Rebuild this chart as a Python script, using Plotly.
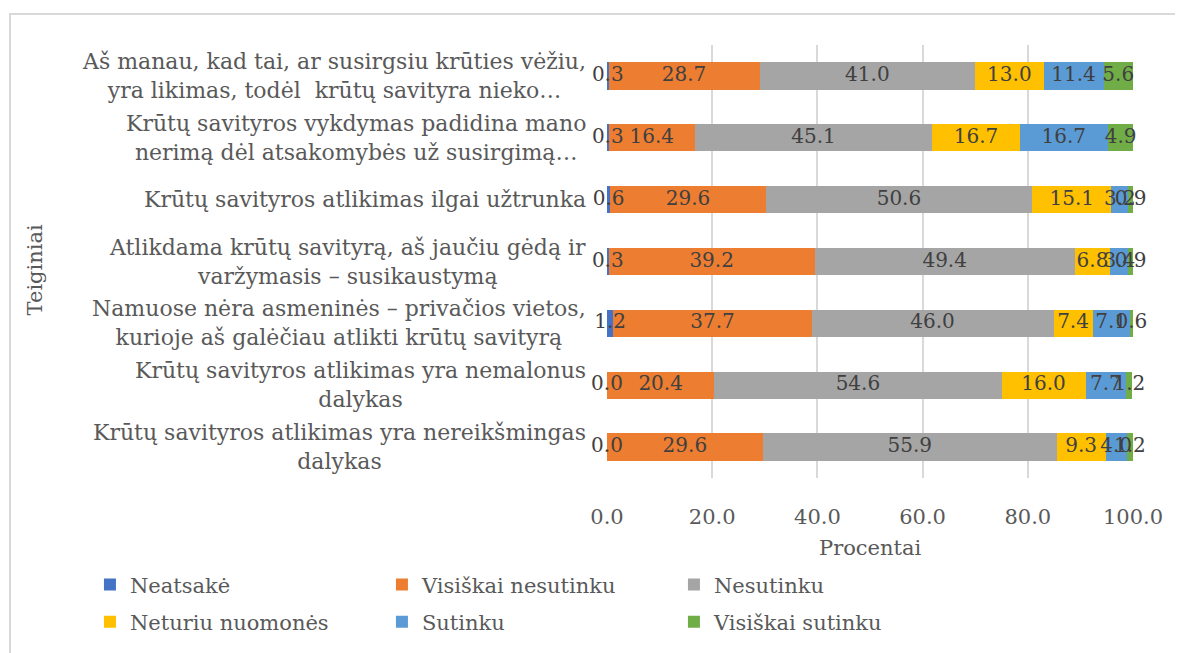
import plotly.graph_objects as go

# Statements, listed top to bottom
categories = [
    'Aš manau, kad tai, ar susirgsiu krūties vėžiu,<br>yra likimas, todėl  krūtų savityra nieko…',
    'Krūtų savityros vykdymas padidina mano<br>nerimą dėl atsakomybės už susirgimą…',
    'Krūtų savityros atlikimas ilgai užtrunka',
    'Atlikdama krūtų savityrą, aš jaučiu gėdą ir<br>varžymasis – susikaustymą',
    'Namuose nėra asmeninės – privačios vietos,<br>kurioje aš galėčiau atlikti krūtų savityrą',
    'Krūtų savityros atlikimas yra nemalonus<br>dalykas',
    'Krūtų savityros atlikimas yra nereikšmingas<br>dalykas',
]

neatsake = [0.3, 0.3, 0.6, 0.3, 1.2, 0.0, 0.0]
visiskai_nesutinku = [28.7, 16.4, 29.6, 39.2, 37.7, 20.4, 29.6]
nesutinku = [41.0, 45.1, 50.6, 49.4, 46.0, 54.6, 55.9]
neturiu_nuomones = [13.0, 16.7, 15.1, 6.8, 7.4, 16.0, 9.3]
sutinku = [11.4, 16.7, 3.2, 3.4, 7.1, 7.7, 4.0]
visiskai_sutinku = [5.6, 4.9, 0.9, 0.9, 0.6, 1.2, 1.2]

series = [
    ('Neatsakė', neatsake, '#4472C4', 'legend'),
    ('Visiškai nesutinku', visiskai_nesutinku, '#ED7D31', 'legend'),
    ('Nesutinku', nesutinku, '#A5A5A5', 'legend'),
    ('Neturiu nuomonės', neturiu_nuomones, '#FFC000', 'legend2'),
    ('Sutinku', sutinku, '#5B9BD5', 'legend2'),
    ('Visiškai sutinku', visiskai_sutinku, '#70AD47', 'legend2'),
]

FONT = 'DejaVu Serif'
GREY = '#595959'

fig = go.Figure()

base = [0.0] * len(categories)
label_traces = []
for name, vals, color, leg in series:
    fig.add_trace(go.Bar(
        x=vals, y=categories, orientation='h', name=name,
        marker=dict(color=color, line=dict(width=0)),
        legend=leg, hoverinfo='x+name',
    ))
    mids = [b + v / 2 for b, v in zip(base, vals)]
    label_traces.append(go.Scatter(
        x=mids, y=categories, mode='text',
        text=[f'{v:.1f}' for v in vals],
        textfont=dict(family=FONT, size=20, color='#404040'),
        showlegend=False, hoverinfo='skip', cliponaxis=False,
    ))
    base = [b + v for b, v in zip(base, vals)]

for t in label_traces:
    fig.add_trace(t)

# category labels, centred lines like the original
for cat in categories:
    fig.add_annotation(
        x=-0.036, xref='paper', y=cat, yref='y',
        text=cat, showarrow=False, xanchor='right', yanchor='middle',
        align='center', font=dict(family=FONT, size=22, color=GREY),
    )

fig.add_annotation(
    x=-1.087, xref='paper', y=0.48, yref='paper', text='Teiginiai',
    textangle=-90, showarrow=False, xanchor='center', yanchor='middle',
    font=dict(family=FONT, size=21, color=GREY),
)
fig.add_annotation(
    x=0.5, xref='paper', y=-0.162, yref='paper', text='Procentai',
    showarrow=False, xanchor='center', yanchor='middle',
    font=dict(family=FONT, size=21, color=GREY),
)

# outer chart frame
fig.add_shape(type='rect', xref='paper', yref='paper',
              x0=-1.135, x1=1.2, y0=-0.5, y1=1.0716,
              line=dict(color='#D9D9D9', width=2), layer='below')

legend_common = dict(
    orientation='h', xanchor='left', yanchor='middle', traceorder='normal',
    font=dict(family=FONT, size=21, color=GREY),
    entrywidth=247, itemwidth=30, bgcolor='rgba(0,0,0,0)',
)

fig.update_layout(
    width=1183, height=653,
    margin=dict(l=599, r=58, t=37, b=183),
    paper_bgcolor='white', plot_bgcolor='white',
    barmode='stack', bargap=0.56,
    font=dict(family=FONT, color=GREY),
    xaxis=dict(
        range=[0, 100], dtick=20, tickformat='.1f',
        showgrid=True, gridcolor='#D9D9D9', gridwidth=1.5,
        zeroline=False, showline=False, ticklabelstandoff=24,
        tickfont=dict(family=FONT, size=21, color=GREY),
    ),
    yaxis=dict(
        autorange='reversed', showticklabels=False,
        showgrid=False, zeroline=False, showline=False,
    ),
    legend=dict(x=-0.983, y=-0.247, **legend_common),
    legend2=dict(x=-0.983, y=-0.333, **legend_common),
    showlegend=True,
)

fig.write_html('out.html')
